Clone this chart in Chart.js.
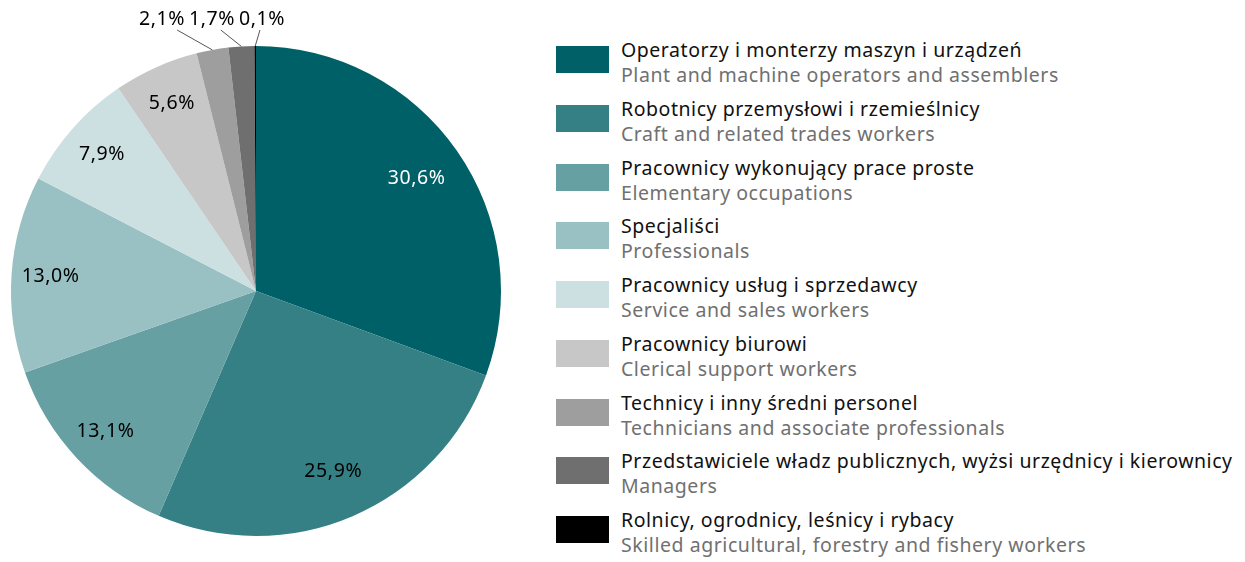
<!DOCTYPE html>
<html>
<head>
<meta charset="utf-8">
<script src="https://cdn.jsdelivr.net/npm/chart.js@4"></script>
<style>
  body { margin: 0; background: #fff; font-family: "Noto Sans", sans-serif; }
  #wrap { position: relative; width: 1245px; height: 562px; }
  #pieBox { position: absolute; left: 0; top: 0; width: 512px; height: 562px; }
  #legend { position: absolute; left: 556px; top: 37px; width: 689px; }
  .row { position: absolute; left: 0; height: 50px; width: 689px; }
  .sw { position: absolute; left: 0; top: 9px; width: 53px; height: 27px; }
  .t1, .t2 { position: absolute; left: 65px; font-size: 19.5px; letter-spacing: 0.55px; line-height: 25px; white-space: nowrap; }
  .t1 { top: 0; color: #111; }
  .t2 { top: 25px; color: #707070; }
</style>
</head>
<body>
<div id="wrap">
  <div id="pieBox"><canvas id="pie"></canvas></div>
  <div id="legend"></div>
</div>
<script>
const labelsPl = [
  "Operatorzy i monterzy maszyn i urządzeń",
  "Robotnicy przemysłowi i rzemieślnicy",
  "Pracownicy wykonujący prace proste",
  "Specjaliści",
  "Pracownicy usług i sprzedawcy",
  "Pracownicy biurowi",
  "Technicy i inny średni personel",
  "Przedstawiciele władz publicznych, wyżsi urzędnicy i kierownicy",
  "Rolnicy, ogrodnicy, leśnicy i rybacy"
];
const labelsEn = [
  "Plant and machine operators and assemblers",
  "Craft and related trades workers",
  "Elementary occupations",
  "Professionals",
  "Service and sales workers",
  "Clerical support workers",
  "Technicians and associate professionals",
  "Managers",
  "Skilled agricultural, forestry and fishery workers"
];
const shares = [30.6, 25.9, 13.1, 13.0, 7.9, 5.6, 2.1, 1.7, 0.1];
const colors = ["#006068", "#348084", "#66a0a3", "#99c0c2", "#cce0e1", "#c6c7c6", "#9d9e9d", "#706f6f", "#000000"];
const labelColors = ["#ffffff", "#000", "#000", "#000", "#000", "#000", "#000", "#000", "#000"];
const outsideFrom = 6; // slices from this index get labels above the pie

function fmt(v) { return v.toFixed(1).replace(".", ",") + "%"; }

// legend
const legend = document.getElementById("legend");
labelsPl.forEach((name, i) => {
  const row = document.createElement("div");
  row.className = "row";
  row.style.top = (i * 58.75) + "px";
  row.innerHTML = `<div class="sw" style="background:${colors[i]}"></div>
    <div class="t1">${name}</div><div class="t2">${labelsEn[i]}</div>`;
  legend.appendChild(row);
});

const sliceLabels = {
  id: "sliceLabels",
  afterDatasetsDraw(chart) {
    const ctx = chart.ctx;
    const arcs = chart.getDatasetMeta(0).data;
    ctx.save();
    ctx.font = '19.5px "Noto Sans"';
    ctx.letterSpacing = "0.6px";
    ctx.textAlign = "center";
    ctx.textBaseline = "middle";
    const n = arcs.length;
    arcs.forEach((arc, i) => {
      const p = arc.getProps(["x", "y", "startAngle", "endAngle", "outerRadius"], true);
      const mid = (p.startAngle + p.endAngle) / 2;
      if (i < outsideFrom) {
        const d = p.outerRadius * (i < 2 ? 0.8 : 0.84);
        ctx.fillStyle = labelColors[i];
        ctx.fillText(fmt(shares[i]), p.x + Math.cos(mid) * d, p.y + Math.sin(mid) * d);
      } else {
        const ex = p.x + Math.cos(mid) * p.outerRadius;
        const ey = p.y + Math.sin(mid) * p.outerRadius;
        const cx = p.x + 6 - (n - 1 - i) * 50;
        const ty = p.y - p.outerRadius - 27;
        ctx.fillStyle = "#000";
        ctx.fillText(fmt(shares[i]), cx, ty);
        ctx.strokeStyle = "#555";
        ctx.lineWidth = 1;
        ctx.beginPath();
        ctx.moveTo(cx + (ex - cx) * 0.3, ty + 11);
        ctx.lineTo(ex, ey);
        ctx.stroke();
      }
    });
    ctx.restore();
  }
};

new Chart(document.getElementById("pie"), {
  type: "pie",
  data: {
    labels: labelsPl,
    datasets: [{
      data: shares,
      backgroundColor: colors,
      borderWidth: 0,
      hoverOffset: 0
    }]
  },
  options: {
    responsive: true,
    maintainAspectRatio: false,
    animation: false,
    layout: { padding: { left: 11, right: 11, top: 46, bottom: 26 } },
    plugins: { legend: { display: false }, tooltip: { enabled: false } }
  },
  plugins: [sliceLabels]
});
</script>
</body>
</html>
